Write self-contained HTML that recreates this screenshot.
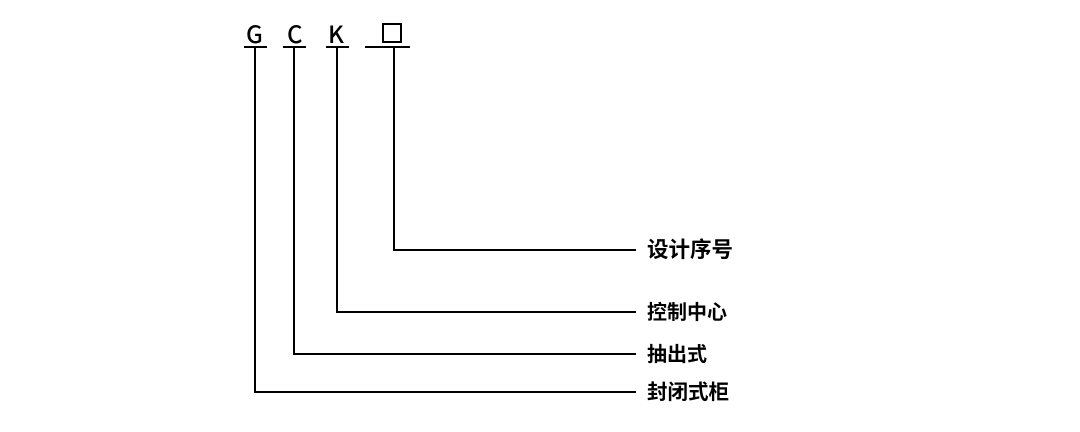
<!DOCTYPE html>
<html><head><meta charset="utf-8"><style>
body{margin:0;background:#fff;width:1080px;height:427px;overflow:hidden}
svg text{font-family:"Noto Sans CJK SC",sans-serif;fill:#000}
</style></head><body>
<svg width="1080" height="427" xmlns="http://www.w3.org/2000/svg">
<g stroke="#000" stroke-width="2" fill="none">
<line x1="244" y1="47" x2="267" y2="47"/>
<line x1="283" y1="47" x2="306" y2="47"/>
<line x1="326" y1="47" x2="349" y2="47"/>
<line x1="365" y1="47" x2="410" y2="47"/>
<rect x="383" y="24" width="18" height="18"/>
<polyline points="394,47 394,250 636,250"/>
<polyline points="337,47 337,312 636,312"/>
<polyline points="294,47 294,354 636,354"/>
<polyline points="255,47 255,392 636,392"/>
</g>
<g font-size="24" font-weight="500">
<text x="246" y="43">G</text>
<text x="287" y="43">C</text>
<text x="328" y="43">K</text>
</g>
<g font-weight="bold">
<text x="647" y="257" font-size="21.5">设计序号</text>
<text x="647" y="319" font-size="20">控制中心</text>
<text x="647" y="361" font-size="20">抽出式</text>
<text x="647" y="399" font-size="20.5">封闭式柜</text>
</g>
</svg>
</body></html>
